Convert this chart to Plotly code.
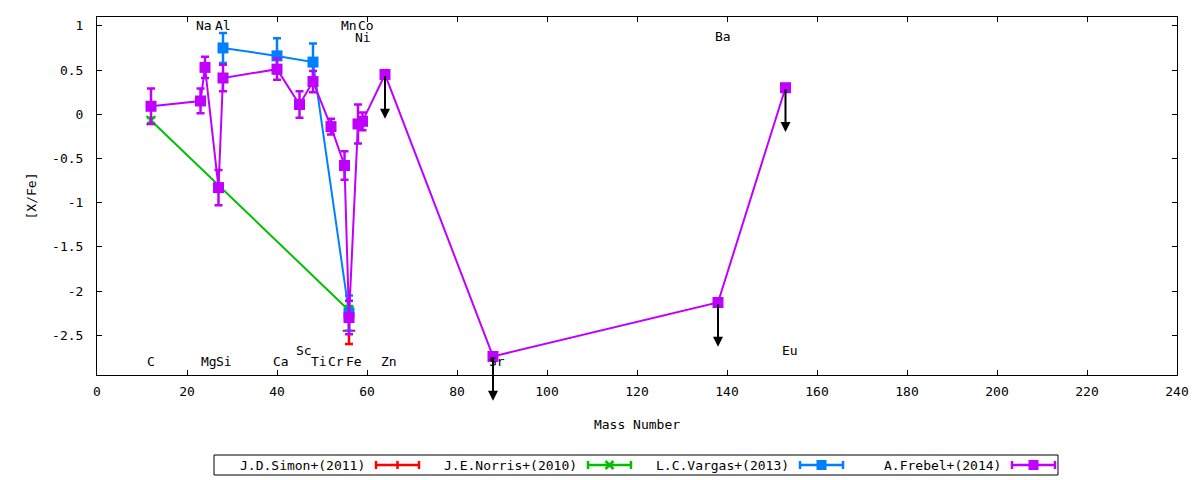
import plotly.graph_objects as go

# A.Frebel+(2014)
frebel_elem = ["C", "Na", "Mg", "Al", "Si", "Ca", "Sc", "Ti", "Cr", "Mn", "Fe", "Ni", "Co", "Zn", "Sr", "Ba", "Eu"]
frebel_mass = [12, 23, 24, 27, 28, 40, 45, 48, 52, 55, 56, 58, 59, 64, 88, 138, 153]
frebel_val = [0.09, 0.15, 0.53, -0.83, 0.41, 0.51, 0.11, 0.37, -0.14, -0.58, -2.30, -0.11, -0.08, 0.45, -2.74, -2.13, 0.30]
frebel_err = [0.20, 0.14, 0.12, 0.20, 0.15, 0.12, 0.15, 0.12, 0.09, 0.16, 0.19, 0.22, 0.10, None, None, None, None]
upper_limits = ["Zn", "Sr", "Ba", "Eu"]

# L.C.Vargas+(2013)
vargas_mass = [28, 40, 48, 56]
vargas_val = [0.75, 0.66, 0.59, -2.25]
vargas_err = [0.17, 0.20, 0.21, 0.20]

# J.E.Norris+(2010)
norris_mass = [12, 56]
norris_val = [-0.07, -2.22]
norris_err = [0.03, 0.05]

# J.D.Simon+(2011)
simon_mass = [56]
simon_val = [-2.45]
simon_err = [0.15]

# element labels
label_text = ["C", "Na", "Mg", "Al", "Si", "Ca", "Sc", "Ti", "Cr", "Mn", "Fe", "Co", "Ni", "Zn", "Sr", "Ba", "Eu"]
label_x = [11.9, 23.8, 24.8, 27.9, 28.3, 40.8, 46.0, 49.4, 53.0, 55.9, 57.2, 59.8, 59.0, 64.9, 88.8, 139.0, 154.1]
label_y = [-2.80, 1.0, -2.80, 1.0, -2.80, -2.80, -2.67, -2.80, -2.80, 1.0, -2.80, 1.0, 0.87, -2.80, -2.80, 0.88, -2.67]

xticks = [0, 20, 40, 60, 80, 100, 120, 140, 160, 180, 200, 220, 240]
yticks = [1, 0.5, 0, -0.5, -1, -1.5, -2, -2.5]
yticktext = ["1", "0.5", "0", "-0.5", "-1", "-1.5", "-2", "-2.5"]

legend_names = ["J.D.Simon+(2011)", "J.E.Norris+(2010)", "L.C.Vargas+(2013)", "A.Frebel+(2014)"]

RED = "#ff0000"
GREEN = "#00c000"
BLUE = "#0080ff"
PURPLE = "#c000ff"
FONT = "DejaVu Sans Mono"

fig = go.Figure()


def add_series(x, y, err, color, symbol, size, mlw):
    fig.add_trace(go.Scatter(
        x=x, y=y, mode="lines+markers", showlegend=False,
        line=dict(color=color, width=2),
        marker=dict(color=color, symbol=symbol, size=size, line=dict(color=color, width=mlw)),
        error_y=dict(type="data", array=err, visible=True, color=color, thickness=2.5, width=4),
        cliponaxis=False,
    ))


add_series(simon_mass, simon_val, simon_err, RED, "cross-thin-open", 9, 2)
add_series(norris_mass, norris_val, norris_err, GREEN, "x-thin-open", 9, 2)
add_series(vargas_mass, vargas_val, vargas_err, BLUE, "square", 11, 0)
add_series(frebel_mass, frebel_val, frebel_err, PURPLE, "square", 11, 0)

# element names
for t, x, y in zip(label_text, label_x, label_y):
    fig.add_annotation(x=x, y=y, text=t, showarrow=False, xanchor="center", yanchor="middle",
                       font=dict(family=FONT, size=13, color="black"))

# upper limit arrows
arrow_len = 0.5
for el in upper_limits:
    i = frebel_elem.index(el)
    fig.add_annotation(x=frebel_mass[i], y=frebel_val[i] - arrow_len,
                       ax=frebel_mass[i], ay=frebel_val[i], axref="x", ayref="y",
                       text="", showarrow=True, arrowhead=2, arrowsize=1,
                       arrowwidth=2, arrowcolor="black", standoff=0, startstandoff=0)

# hand-made gnuplot-style legend box at the bottom
L, R, T, B = 97, 1177, 17, 375


def px(x):
    return (x - L) / (R - L)


def py(y):
    return (B - y) / (B - T)


shapes = [dict(type="rect", xref="paper", yref="paper", x0=px(214), x1=px(1058), y0=py(475), y1=py(455),
               line=dict(color="black", width=1))]
colors = [RED, GREEN, BLUE, PURPLE]
kinds = ["plus", "x", "square", "square"]
yc = 465
for k, name in enumerate(legend_names):
    tend = 367 + 212 * k
    s0, s1 = tend + 9, tend + 52
    c = colors[k]
    fig.add_annotation(x=px(tend), y=py(yc), xref="paper", yref="paper", text=name, showarrow=False,
                       xanchor="right", yanchor="middle", font=dict(family=FONT, size=13, color="black"))
    ln = dict(color=c, width=2.5)
    shapes.append(dict(type="line", xref="paper", yref="paper", x0=px(s0), x1=px(s1), y0=py(yc), y1=py(yc), line=ln))
    for sx in (s0, s1):
        shapes.append(dict(type="line", xref="paper", yref="paper", x0=px(sx), x1=px(sx),
                           y0=py(yc - 4), y1=py(yc + 4), line=ln))
    mx = (s0 + s1) / 2
    if kinds[k] == "square":
        shapes.append(dict(type="rect", xref="paper", yref="paper", x0=px(mx - 5), x1=px(mx + 5),
                           y0=py(yc + 5), y1=py(yc - 5), fillcolor=c, line=dict(width=0)))
    elif kinds[k] == "plus":
        shapes.append(dict(type="line", xref="paper", yref="paper", x0=px(mx), x1=px(mx),
                           y0=py(yc - 4), y1=py(yc + 4), line=ln))
    else:
        shapes.append(dict(type="line", xref="paper", yref="paper", x0=px(mx - 4), x1=px(mx + 4),
                           y0=py(yc - 4), y1=py(yc + 4), line=ln))
        shapes.append(dict(type="line", xref="paper", yref="paper", x0=px(mx - 4), x1=px(mx + 4),
                           y0=py(yc + 4), y1=py(yc - 4), line=ln))

axis_common = dict(showline=True, linecolor="black", linewidth=1, mirror="ticks", ticks="inside",
                   ticklen=5, tickcolor="black", showgrid=False, zeroline=False,
                   tickfont=dict(family=FONT, size=13, color="black"))

fig.update_layout(
    width=1200, height=480,
    margin=dict(l=L, r=1200 - R, t=T, b=480 - B),
    paper_bgcolor="white", plot_bgcolor="white",
    font=dict(family=FONT, size=13, color="black"),
    showlegend=False,
    shapes=shapes,
    xaxis=dict(range=[0, 240], tickvals=xticks, ticklabelstandoff=4,
               title=dict(text="Mass Number", standoff=22, font=dict(family=FONT, size=13)), **axis_common),
    yaxis=dict(range=[-2.95, 1.1], tickvals=yticks, ticktext=yticktext, ticklabelstandoff=10,
               title=dict(text="[X/Fe]", standoff=12, font=dict(family=FONT, size=13)), **axis_common),
)

fig.write_html("out.html", config={"displayModeBar": False},
               post_script="document.body.style.margin='0';document.body.style.overflow='hidden';")
